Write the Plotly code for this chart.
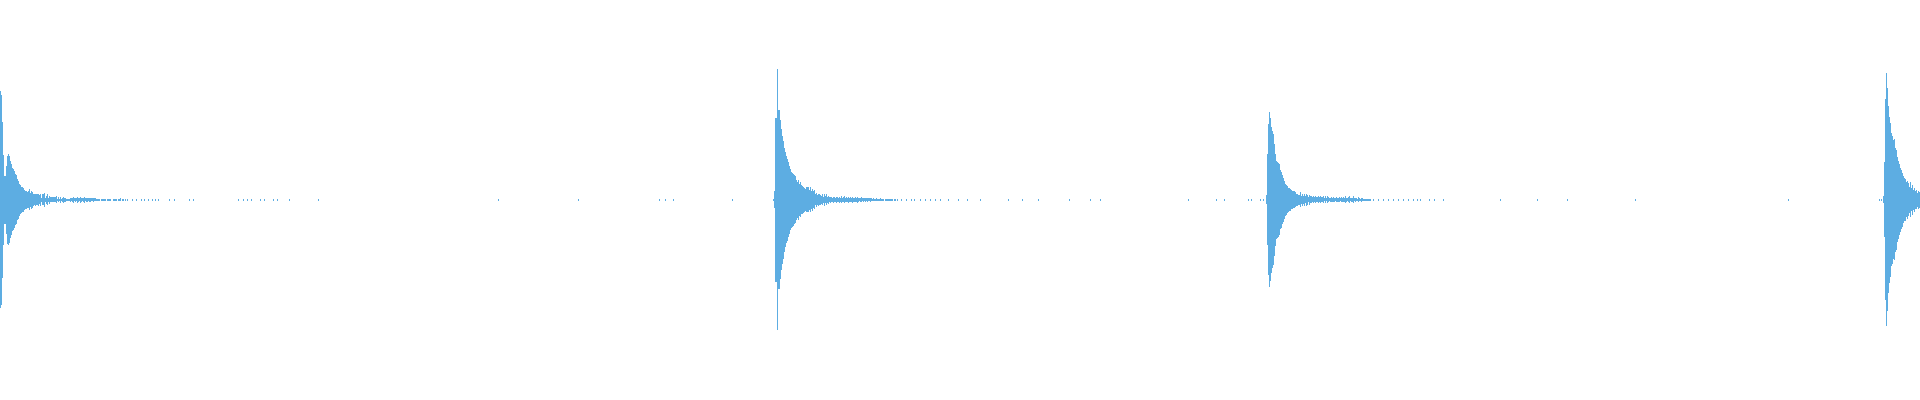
import plotly.graph_objects as go

# Peak amplitude (percent of full scale) per sample column, symmetric around 0
burst1_start = 0
burst1 = [54.3, 52.5, 39, 22.5, 12, 12, 17, 22, 22.8, 21.8,
          19.3, 17.8, 15.8, 15.3, 14.3, 12.8, 12.3, 10.3, 9.5, 8,
          7.3, 6.5, 6.3, 6, 5, 4.5, 4.5, 4, 4.3, 5.3,
          3.5, 4.5, 4, 3, 2.8, 3, 2.8, 2.8, 3, 2.3,
          3, 1, 2.8, 2.9, 3.5, 1, 2, 2.8, 1, 2,
          1.4, 1.3, 1.3, 1.3, 1.3, 1.3, 1.8, 0.5, 1.3, 0.5,
          1.5, 0.5, 1, 1.5, 1, 1, 0.3, 0.5, 0.5, 0.5,
          1, 0.8, 1, 1.5, 0.8, 1, 0.8, 1.5, 1, 0.8,
          1.5, 1, 0.8, 1, 1.5, 0.8, 1, 1, 0.8, 1,
          1, 0.8, 0.8, 1, 0.8, 0.8,
          0.3, 0.3, 0.3, 0.3, 0, 0.3, 0.3, 0.3, 0.3, 0.3,
          0, 0.3, 0.3, 0.3, 0.3, 0, 0, 0.3, 0.3, 0.3,
          0.3, 0, 0.3, 0.3, 0.6, 0, 0.3, 0.3, 0, 0.3]

burst2_start = 774
burst2 = [4.3, 41, 41, 65.3, 44.8, 44.8, 39.8, 35.3, 32, 29.5,
          26, 23.8, 21.8, 20.5, 18.8, 17, 15.3, 14, 13.5, 13,
          12.3, 11.8, 10, 9, 10, 8, 8.8, 7.3, 7, 6.5,
          6, 5.5, 6.4, 6.4, 6.4, 5, 6.3, 4.5, 5.5, 4.3,
          4.8, 2.8, 3.5, 2.5, 3, 2.8, 2.5, 2, 2.8, 1.5,
          3, 1.8, 2.8, 1.5, 2, 1.3, 1.5, 1.3, 1, 1.5,
          1.3, 1, 1.5, 1.3,
          1, 1.5, 1, 1.8, 1, 1.3, 1.8, 1, 1.3, 1,
          1.5, 1, 1.3, 1, 1.5, 1, 1, 1.3, 1, 1.5,
          1, 0.8, 1, 1.3, 0.8, 1, 0.8, 1, 0.8, 1,
          0.8, 0.8, 1,
          0.8, 0.5, 0.8, 0.5, 0.5, 0.8, 0.5, 0.5, 0.5, 0.8,
          0.3, 0.3, 0.3, 0, 0.3, 0.3, 0.3, 0.3, 0.3, 0.3,
          0.3, 0.3, 0, 0.3, 0.3]

burst3_start = 1266
burst3 = [2.3, 22.8, 37.8, 43.8, 40.8, 36.5, 34.3, 32.8, 28, 23,
          19.5, 19, 18.5, 17.8, 14.8, 14, 12.3, 11, 9.5, 8,
          7.5, 6.8, 6, 5.8, 5.5, 4.8, 4.5, 4.3, 4.3, 3.8,
          3, 3, 2.5, 2.5, 3.8, 2, 3, 2, 3, 1.9,
          3, 2.5, 1.4, 2.5, 1.9, 1.8, 1.4, 1.6, 1.4, 1.8,
          1.4, 1.1, 1.9, 1.1, 1.9, 1.1, 1.1, 1.9, 0.8, 1.8,
          0.8, 1.8, 1.1, 0.8,
          1, 1.3, 1, 1.3, 1, 0.8, 1.3, 1, 1, 1.3,
          0.8, 1.3, 1, 1.3, 1, 1.6, 1, 0.8, 1.3, 1.6,
          0.8, 1, 1, 1.6, 0.8, 1, 0.8, 0.5, 1.3, 0.8,
          0.5, 1, 0.8,
          0.5, 0.3, 0.3, 0.3, 0.3, 0.3, 0.3, 0.3]

burst4_start = 1883
burst4 = [1.8, 18.8, 50.3, 63.3, 55.8, 46.8, 41.5, 38.5, 33.3, 32,
          29.8, 30.3, 26, 25, 21.3, 19.5, 17.8, 16, 14.8, 13.5,
          11.8, 10.8, 10.5, 8.8, 9.5, 8.3, 6.5, 8.8, 5.8, 7.5,
          5, 6, 4.5, 4.8, 3.5, 4.5, 4]

# isolated near-silent samples
dots_x = [127, 132, 136, 141, 144, 148, 152, 155, 158, 169, 174, 189, 193,
          238, 243, 247, 251, 260, 264, 273, 277, 289, 318, 498, 578,
          659, 665, 673, 732, 773,
          897, 901, 906, 911, 914, 920, 925, 930, 935, 940, 948, 958,
          967, 980, 1008, 1022, 1038, 1069, 1090, 1100, 1188, 1216, 1224,
          1248, 1251, 1260, 1263,
          1373, 1378, 1383, 1388, 1393, 1398, 1403, 1408, 1413, 1417, 1420,
          1429, 1434, 1443, 1500, 1537, 1567, 1635, 1788, 1879, 1881]
dot_level = 0.3

segments = [(burst1_start, burst1), (burst2_start, burst2),
            (burst3_start, burst3), (burst4_start, burst4)]

xs, amps = [], []
for start, seg in segments:
    for i, v in enumerate(seg):
        if v > 0:
            xs.append(start + i)
            amps.append(v)
for d in dots_x:
    xs.append(d)
    amps.append(dot_level)

fig = go.Figure(go.Bar(
    x=xs,
    y=[2 * a for a in amps],
    base=[-a for a in amps],
    width=1,
    marker=dict(color="#5DADE2", line=dict(width=0)),
    hoverinfo="skip",
))
fig.update_layout(
    width=1920, height=400,
    margin=dict(l=0, r=0, t=0, b=0),
    paper_bgcolor="white", plot_bgcolor="white",
    showlegend=False, bargap=0,
)
fig.update_xaxes(range=[-0.5, 1919.5], visible=False, fixedrange=True)
fig.update_yaxes(range=[-100.25, 99.75], visible=False, fixedrange=True)
fig.write_html(
    "out.html",
    config={"displayModeBar": False},
    post_script="document.body.style.margin='0';document.body.style.overflow='hidden';",
)
